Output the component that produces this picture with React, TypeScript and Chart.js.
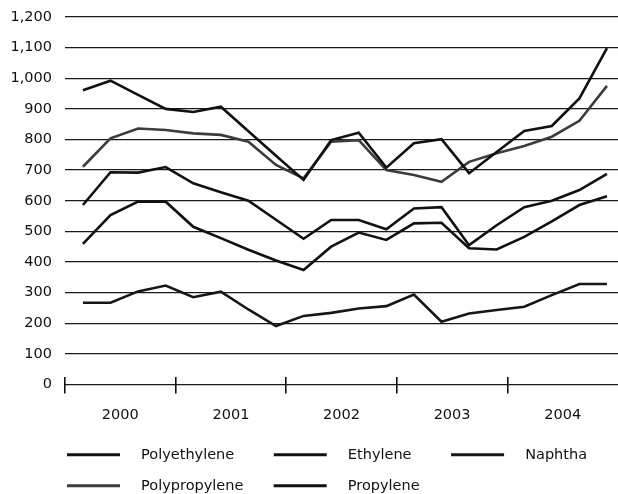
import React, { useEffect, useRef } from "react";
import { Chart, registerables } from "chart.js";

Chart.register(...registerables);

const QUARTERS = [
  "2000Q1", "2000Q2", "2000Q3", "2000Q4",
  "2001Q1", "2001Q2", "2001Q3", "2001Q4",
  "2002Q1", "2002Q2", "2002Q3", "2002Q4",
  "2003Q1", "2003Q2", "2003Q3", "2003Q4",
  "2004Q1", "2004Q2", "2004Q3", "2004Q4",
];
const YEARS = ["2000", "2001", "2002", "2003", "2004"];

const POLYETHYLENE = [961, 992, 946, 900, 890, 907, 827, 747, 668, 798, 822, 708, 788, 801, 690, 759, 828, 844, 934, 1098];
const ETHYLENE = [586, 693, 692, 710, 657, 628, 600, 538, 476, 537, 537, 507, 575, 579, 455, 520, 579, 600, 635, 688];
const NAPHTHA = [267, 267, 304, 323, 285, 303, 245, 191, 224, 234, 248, 256, 294, 205, 232, 243, 254, 292, 328, 328];
const POLYPROPYLENE = [711, 804, 836, 831, 820, 815, 793, 717, 673, 793, 798, 700, 684, 662, 727, 755, 779, 809, 861, 975];
const PROPYLENE = [459, 553, 597, 597, 515, 478, 440, 405, 374, 450, 496, 472, 526, 528, 445, 441, 482, 533, 586, 615];

const SERIES_NAMES = ["Polyethylene", "Ethylene", "Naphtha", "Polypropylene", "Propylene"];
const SERIES_VALUES = [POLYETHYLENE, ETHYLENE, NAPHTHA, POLYPROPYLENE, PROPYLENE];
const SERIES_COLORS = ["#111111", "#111111", "#161616", "#3c3c3c", "#111111"];

// legend spacing (leading / trailing spaces to emulate the column layout)
const LEGEND_LEAD = [3, 3, 3, 3, 3];
const LEGEND_TRAIL = [5, 5, 0, 3, 0];

const FONT = { family: "'DejaVu Sans', sans-serif", size: 14.5 };
const INK = "#111111";

export default function App() {
  const ref = useRef<HTMLCanvasElement | null>(null);

  useEffect(() => {
    if (!ref.current) return;
    const hideLast = (ctx: any) =>
      ctx.tick && ctx.tick.value === 5 ? "rgba(0,0,0,0)" : INK;

    const chart = new Chart(ref.current, {
      type: "line",
      data: {
        labels: QUARTERS,
        datasets: SERIES_NAMES.map((name, s) => ({
          label: name,
          data: SERIES_VALUES[s].map((v, i) => ({ x: i, y: v })),
          xAxisID: "xq",
          yAxisID: "y",
          borderColor: SERIES_COLORS[s],
          backgroundColor: SERIES_COLORS[s],
          borderWidth: 2.6,
          pointRadius: 0,
          pointHoverRadius: 0,
          tension: 0,
          fill: false,
        })),
      },
      options: {
        animation: false,
        responsive: false,
        maintainAspectRatio: false,
        layout: { padding: { left: 50.5, top: 17, right: 0, bottom: 0 } },
        plugins: {
          tooltip: { enabled: false },
          legend: {
            position: "bottom",
            align: "start",
            maxHeight: 63,
            labels: {
              usePointStyle: true,
              pointStyle: "line",
              pointStyleWidth: 53,
              padding: 16.5,
              color: INK,
              font: FONT,
              generateLabels: (c: any) => {
                const items = Chart.defaults.plugins.legend.labels.generateLabels(c);
                items.forEach((it: any, i: number) => {
                  it.text =
                    " ".repeat(LEGEND_LEAD[i]) + SERIES_NAMES[i] + " ".repeat(LEGEND_TRAIL[i]);
                  it.lineWidth = 3;
                });
                return items;
              },
            },
          },
        },
        scales: {
          xq: {
            type: "linear",
            axis: "x",
            display: false,
            min: -0.65,
            max: 19.4,
          },
          x: {
            type: "linear",
            position: "bottom",
            min: 0,
            max: 5,
            afterFit: (s: any) => {
              s.height = 46.5;
            },
            ticks: {
              stepSize: 1,
              autoSkip: false,
              maxRotation: 0,
              labelOffset: 55.3,
              padding: 0,
              color: INK,
              font: { ...FONT, lineHeight: "43.4px" },
              callback: (v: any) => (YEARS[v as number] !== undefined ? YEARS[v as number] : ""),
            },
            grid: {
              drawOnChartArea: false,
              drawTicks: true,
              tickLength: 9,
              lineWidth: 1.6,
              color: hideLast,
            },
            border: { display: false },
          },
          xt: {
            type: "linear",
            axis: "x",
            position: { y: 25 },
            min: 0,
            max: 5,
            ticks: { display: false, stepSize: 1 },
            grid: {
              drawOnChartArea: false,
              drawTicks: true,
              tickLength: 8,
              lineWidth: 1.6,
              color: hideLast,
            },
            border: { display: false },
          },
          y: {
            type: "linear",
            position: "left",
            min: 0,
            max: 1200,
            afterFit: (s: any) => {
              s.width = 14.5;
            },
            ticks: {
              stepSize: 100,
              mirror: true,
              crossAlign: "far",
              padding: -54.5,
              color: INK,
              font: FONT,
            },
            grid: {
              drawTicks: false,
              color: "#1a1a1a",
              lineWidth: 1.3,
            },
            border: { display: false },
          },
        },
      } as any,
    });
    return () => chart.destroy();
  }, []);

  return (
    <div style={{ position: "absolute", left: 0, top: 0, width: 618, height: 494, background: "#fff" }}>
      <canvas ref={ref} width={618} height={494} />
    </div>
  );
}
